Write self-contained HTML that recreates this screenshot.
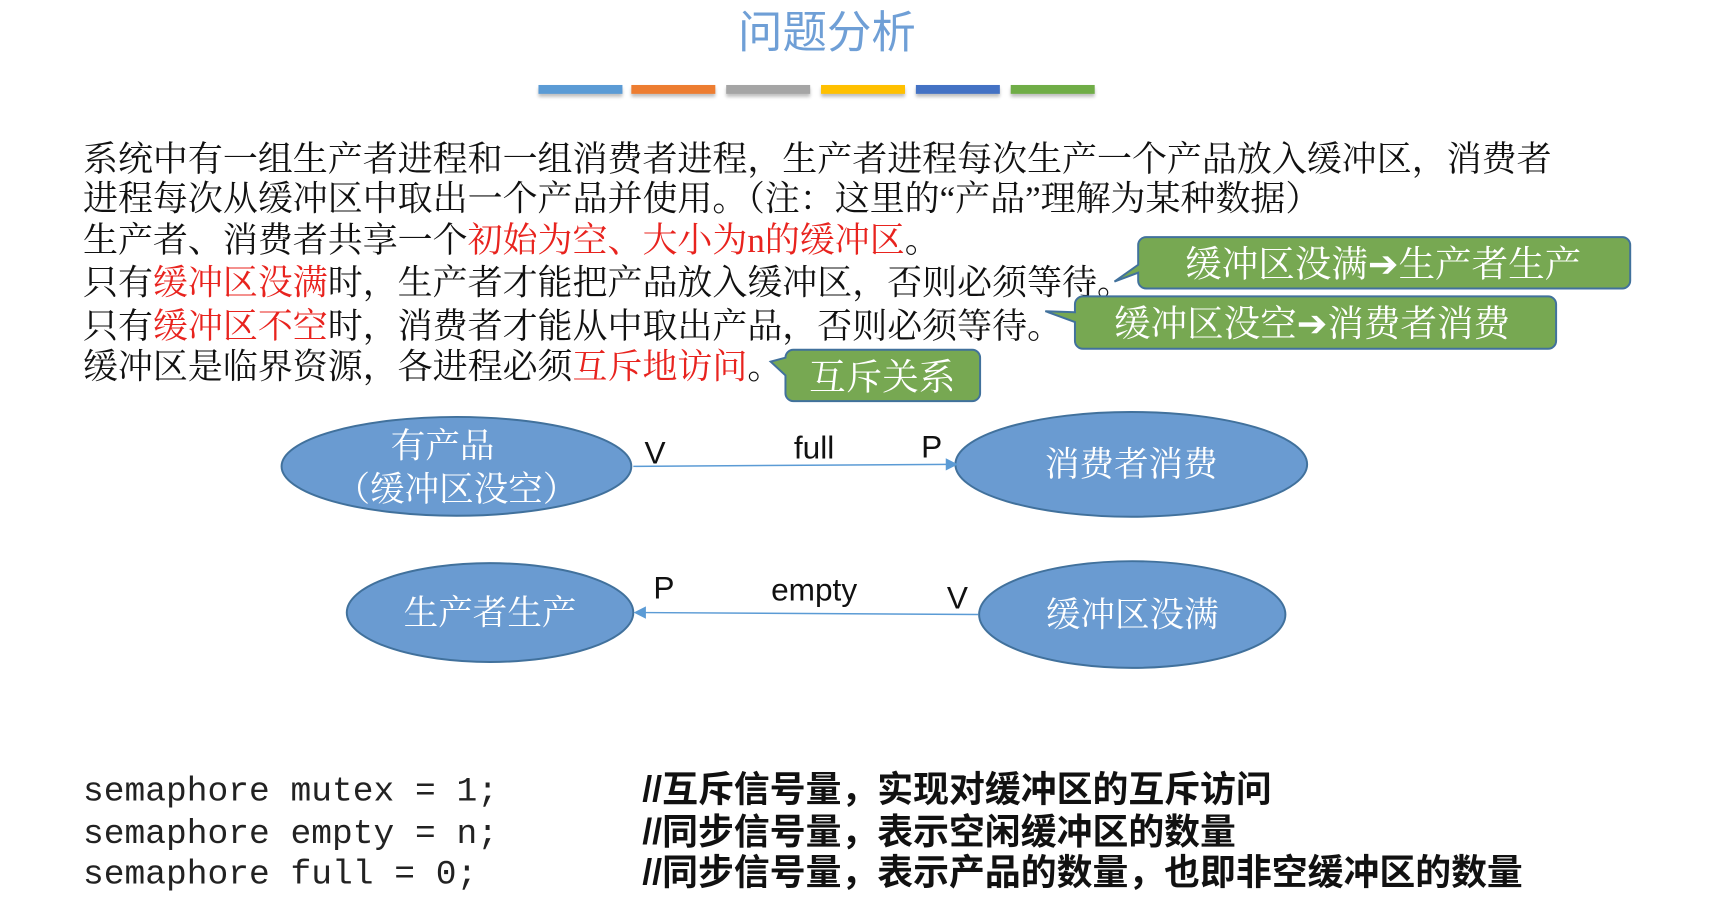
<!DOCTYPE html>
<html><head><meta charset="utf-8"><style>
html,body{margin:0;padding:0;background:#fff;}
body{width:1734px;height:908px;position:relative;overflow:hidden;font-family:"Liberation Serif","Noto Serif CJK SC",serif;}
#w{position:absolute;left:0;top:0;width:1734px;height:908px;transform:scale(0.988);transform-origin:0 0;}
.t{position:absolute;white-space:nowrap;line-height:1;}
.body{font-size:35.4px;color:#111;left:84px;}
.r{color:#e8231e;}
.bar{position:absolute;top:86px;height:9px;box-shadow:0 3px 3px rgba(0,0,0,0.25);}
.code{font-family:"Liberation Mono",monospace;font-size:35px;color:#222;left:84px;}
.cm{font-family:"Liberation Sans","Noto Sans CJK SC",sans-serif;font-size:36.3px;color:#111;left:650px;font-weight:bold;}
</style></head><body><div id="w">
<div class="t" style="left:0;width:1674px;text-align:center;top:10px;font-size:45px;color:#6f9fd6;font-family:'Liberation Sans','Noto Sans CJK SC',sans-serif;">问题分析</div>
<div class="bar" style="left:545px;width:85px;background:#5b9bd5"></div>
<div class="bar" style="left:639px;width:85px;background:#ed7d31"></div>
<div class="bar" style="left:735px;width:85px;background:#a5a5a5"></div>
<div class="bar" style="left:831px;width:85px;background:#ffc000"></div>
<div class="bar" style="left:927px;width:85px;background:#4472c4"></div>
<div class="bar" style="left:1023px;width:85px;background:#70ad47"></div>

<div class="t body" style="top:144px;">系统中有一组生产者进程和一组消费者进程，生产者进程每次生产一个产品放入缓冲区，消费者</div>
<div class="t body" style="top:184px;">进程每次从缓冲区中取出一个产品并使用。（注：这里的“产品”理解为某种数据）</div>
<div class="t body" style="top:226px;">生产者、消费者共享一个<span class="r">初始为空、大小为n的缓冲区</span>。</div>
<div class="t body" style="top:269px;">只有<span class="r">缓冲区没满</span>时，生产者才能把产品放入缓冲区，否则必须等待。</div>
<div class="t body" style="top:313px;">只有<span class="r">缓冲区不空</span>时，消费者才能从中取出产品，否则必须等待。</div>
<div class="t body" style="top:354px;">缓冲区是临界资源，各进程必须<span class="r">互斥地访问</span>。</div>

<svg width="1734" height="908" style="position:absolute;left:0;top:0" xmlns="http://www.w3.org/2000/svg">
<g stroke="#41719c" stroke-width="2" fill="#77a852">
<path d="M1160,240 H1642 a8,8 0 0 1 8,8 V284 a8,8 0 0 1 -8,8 H1160 a8,8 0 0 1 -8,-8 V276 L1128,285 L1152,268 V248 a8,8 0 0 1 8,-8 Z"/>
<path d="M1096,300 H1567 a8,8 0 0 1 8,8 V345 a8,8 0 0 1 -8,8 H1096 a8,8 0 0 1 -8,-8 V332 V326 L1058,315 L1088,316 V308 a8,8 0 0 1 8,-8 Z"/>
<path d="M803,354 H984 a8,8 0 0 1 8,8 V398 a8,8 0 0 1 -8,8 H803 a8,8 0 0 1 -8,-8 V380 L780,366 L795,362 a8,8 0 0 1 8,-8 Z"/>
</g>
<g font-family="Liberation Serif,Noto Serif CJK SC,serif" font-size="37" fill="#fff" text-anchor="middle">
<text x="1400" y="280">缓冲区没满➔生产者生产</text>
<text x="1328" y="340">缓冲区没空➔消费者消费</text>
<text x="893" y="394">互斥关系</text>
</g>
<g fill="#6a9bd1" stroke="#41719c" stroke-width="2">
<ellipse cx="462" cy="472" rx="177" ry="50"/>
<ellipse cx="1145" cy="470" rx="178" ry="53"/>
<ellipse cx="496" cy="620" rx="145" ry="50"/>
<ellipse cx="1146" cy="622" rx="155" ry="54"/>
</g>
<g font-family="Liberation Serif,Noto Serif CJK SC,serif" font-size="35" fill="#fff" text-anchor="middle">
<text x="448" y="463">有产品</text>
<text x="462" y="507">（缓冲区没空）</text>
<text x="1145" y="482">消费者消费</text>
<text x="496" y="632">生产者生产</text>
<text x="1146" y="634">缓冲区没满</text>
</g>
<g stroke="#5b9bd5" stroke-width="1.5" fill="#5b9bd5">
<line x1="641" y1="472" x2="960" y2="470"/>
<path d="M968,470 L958,465 L958,475 Z"/>
<line x1="990" y1="622" x2="651" y2="620"/>
<path d="M643,620 L653,615 L653,625 Z"/>
</g>
<g font-family="Liberation Sans,sans-serif" font-size="32" fill="#111" text-anchor="middle">
<text x="663" y="469">V</text>
<text x="824" y="464">full</text>
<text x="943" y="463">P</text>
<text x="672" y="606">P</text>
<text x="824" y="608">empty</text>
<text x="969" y="616">V</text>
</g>
</svg>

<div class="t code" style="top:784px;">semaphore mutex = 1;</div>
<div class="t code" style="top:827px;">semaphore empty = n;</div>
<div class="t code" style="top:868px;">semaphore full = 0;</div>
<div class="t cm" style="top:781px;">//互斥信号量，实现对缓冲区的互斥访问</div>
<div class="t cm" style="top:824px;">//同步信号量，表示空闲缓冲区的数量</div>
<div class="t cm" style="top:865px;">//同步信号量，表示产品的数量，也即非空缓冲区的数量</div>
</div></body></html>
